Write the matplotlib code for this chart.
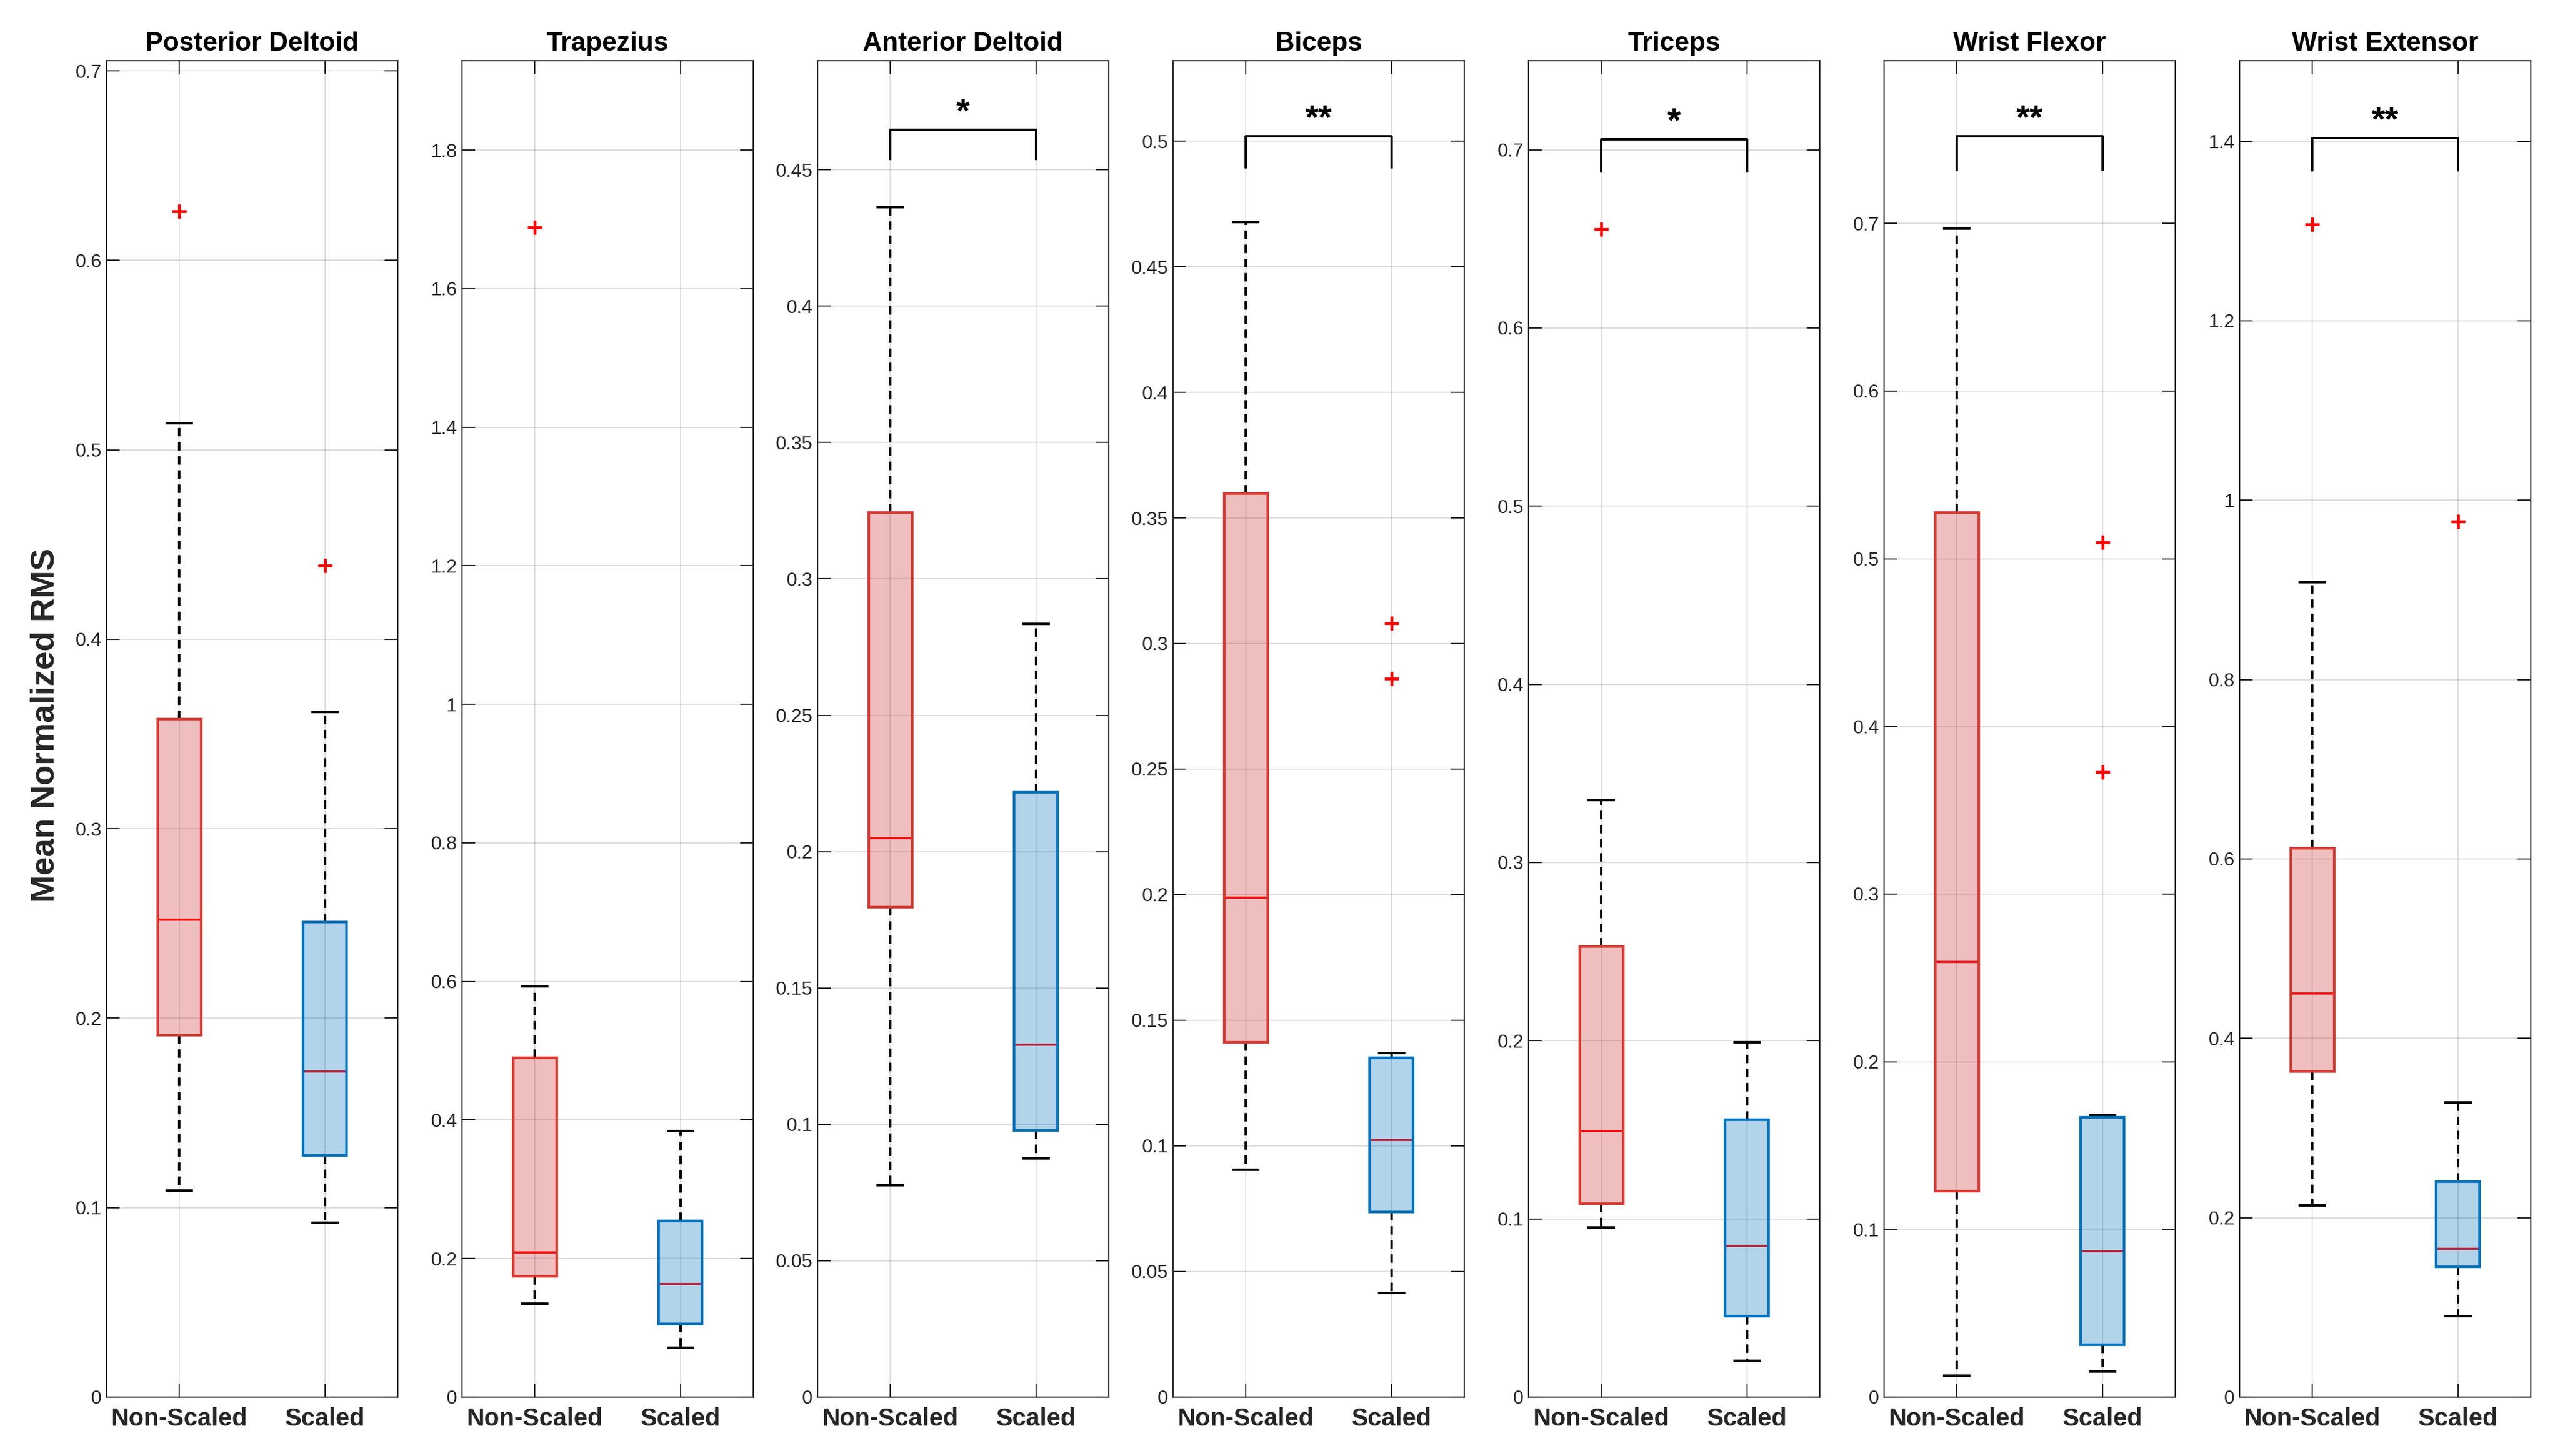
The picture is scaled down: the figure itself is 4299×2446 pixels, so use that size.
import numpy as np
import matplotlib
matplotlib.use('Agg')
import matplotlib.pyplot as plt
from matplotlib.ticker import MultipleLocator

plt.rcParams['font.family'] = ['Liberation Sans', 'DejaVu Sans']

muscles = ['Posterior Deltoid', 'Trapezius', 'Anterior Deltoid', 'Biceps',
           'Triceps', 'Wrist Flexor', 'Wrist Extensor']
groups = ['Non-Scaled', 'Scaled']

# Non-Scaled box stats
ns_whislo = [0.109, 0.135, 0.0776, 0.0905, 0.0953, 0.0128, 0.214]
ns_q1 = [0.191, 0.174, 0.1797, 0.1413, 0.1084, 0.1227, 0.3628]
ns_med = [0.252, 0.209, 0.205, 0.1988, 0.1492, 0.2594, 0.450]
ns_q3 = [0.358, 0.490, 0.3243, 0.3598, 0.2529, 0.5276, 0.6122]
ns_whishi = [0.514, 0.593, 0.4363, 0.4677, 0.335, 0.697, 0.9085]
ns_fliers = [[0.626], [1.688], [], [], [0.6555], [], [1.3076]]

# Scaled box stats
s_whislo = [0.092, 0.0714, 0.0875, 0.0415, 0.0204, 0.0151, 0.0904]
s_q1 = [0.1276, 0.106, 0.0977, 0.0738, 0.0455, 0.0312, 0.1455]
s_med = [0.172, 0.163, 0.1292, 0.1024, 0.0848, 0.087, 0.1653]
s_q3 = [0.2507, 0.2546, 0.2218, 0.135, 0.1555, 0.1668, 0.240]
s_whishi = [0.3616, 0.384, 0.2836, 0.137, 0.199, 0.1684, 0.3284]
s_fliers = [[0.439], [], [], [0.308, 0.286], [], [0.5098, 0.3726], [0.976]]

# significance brackets
sig_text = ['', '', '*', '**', '*', '**', '**']
bar_top = [None, None, 0.4647, 0.502, 0.706, 0.752, 1.404]
bar_leg = [None, None, 0.454, 0.4896, 0.688, 0.732, 1.368]

y_top = [0.7054, 1.929, 0.49, 0.532, 0.750, 0.797, 1.49]
y_step = [0.1, 0.2, 0.05, 0.05, 0.1, 0.1, 0.2]

red_edge = '#d63a33'
red_face = (0.80, 0.18, 0.18, 0.3)
blue_edge = '#0072bd'
blue_face = (0.0, 0.447, 0.741, 0.3)
dark = '#262626'

fig = plt.figure(figsize=(42.99, 24.46), dpi=100)

left0, step, width = 0.04164, 0.13887, 0.11375
bottom, height = 0.0405, 0.9178

for i, name in enumerate(muscles):
    ax = fig.add_axes([left0 + step * i, bottom, width, height])
    stats = [
        dict(med=ns_med[i], q1=ns_q1[i], q3=ns_q3[i], whislo=ns_whislo[i],
             whishi=ns_whishi[i], fliers=ns_fliers[i], label=groups[0]),
        dict(med=s_med[i], q1=s_q1[i], q3=s_q3[i], whislo=s_whislo[i],
             whishi=s_whishi[i], fliers=s_fliers[i], label=groups[1]),
    ]
    res = ax.bxp(stats, positions=[1, 2], widths=0.3, patch_artist=True,
                 showfliers=True,
                 whiskerprops=dict(color='black', linewidth=3.0,
                                   linestyle=(0, (3.4, 2.3))),
                 capprops=dict(color='black', linewidth=3.0),
                 medianprops=dict(color='red', linewidth=2.6, zorder=2),
                 flierprops=dict(marker='+', markeredgecolor='red',
                                 markersize=17, markeredgewidth=3.4,
                                 linestyle='none'),
                 capwidths=0.17)
    for box, ec, fc in zip(res['boxes'], [red_edge, blue_edge], [red_face, blue_face]):
        box.set_facecolor(fc)
        box.set_edgecolor(ec)
        box.set_linewidth(3.2)
        box.set_zorder(3)

    if sig_text[i]:
        ax.plot([1, 1, 2, 2], [bar_leg[i], bar_top[i], bar_top[i], bar_leg[i]],
                color='black', linewidth=2.9, zorder=4)
        ax.annotate(sig_text[i], xy=(1.5, bar_top[i]), xytext=(0, 0),
                    textcoords='offset points', ha='center', va='bottom',
                    fontsize=42, fontweight='bold')

    ax.set_xlim(0.5, 2.5)
    ax.set_ylim(0, y_top[i])
    ax.yaxis.set_major_locator(MultipleLocator(y_step[i]))
    ax.yaxis.set_major_formatter(plt.FuncFormatter(lambda v, p: '%g' % round(v, 4)))
    ax.set_xticks([1, 2])
    ax.set_xticklabels(groups, fontsize=30, fontweight='bold', color=dark)
    ax.tick_params(axis='both', direction='in', length=16, width=1.5,
                   top=True, right=True, colors=dark)
    ax.tick_params(axis='y', labelsize=23, pad=6)
    ax.tick_params(axis='x', pad=12)
    ax.grid(True, color=dark, alpha=0.15, linewidth=1.5)
    ax.set_axisbelow(True)
    for sp in ax.spines.values():
        sp.set_color(dark)
        sp.set_linewidth(1.6)
    ax.set_title(name, fontsize=32, fontweight='bold', pad=12)

fig.text(0.0179, 0.502, 'Mean Normalized RMS', rotation=90, ha='center',
         va='center', fontsize=40, fontweight='bold', color=dark)

fig.savefig('out.png', dpi=100)
